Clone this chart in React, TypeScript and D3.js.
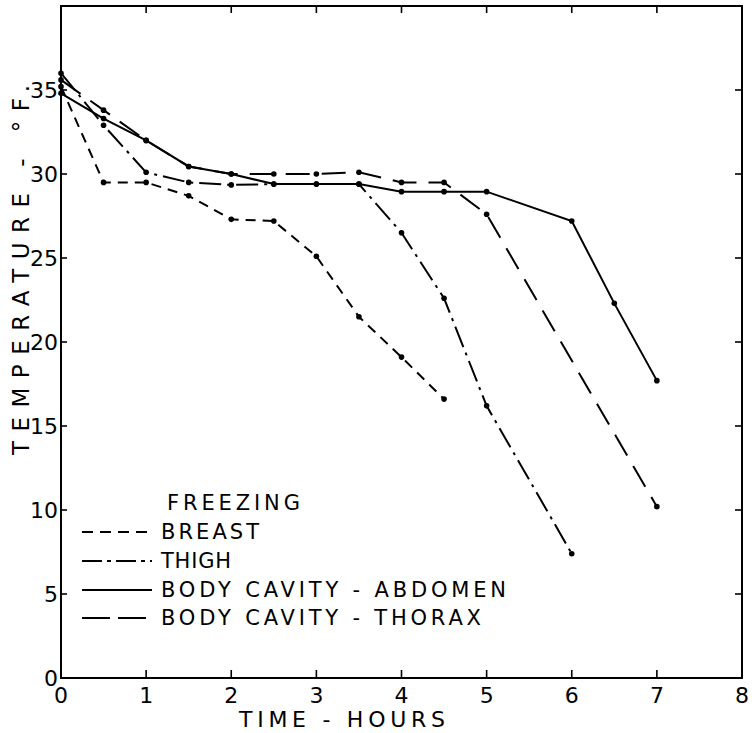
import React from "react";
import * as d3 from "d3";

const hoursBreast = [0, 0.5, 1, 1.5, 2, 2.5, 3, 3.5, 4, 4.5];
const tempBreast = [35.2, 29.5, 29.5, 28.7, 27.3, 27.2, 25.1, 21.5, 19.1, 16.6];

const hoursThigh = [0, 0.5, 1, 1.5, 2, 2.5, 3, 3.5, 4, 4.5, 5, 6];
const tempThigh = [36.0, 32.9, 30.1, 29.5, 29.35, 29.4, 29.4, 29.4, 26.5, 22.6, 16.2, 7.4];

const hoursAbdomen = [0, 0.5, 1, 1.5, 2, 2.5, 3, 3.5, 4, 4.5, 5, 6, 6.5, 7];
const tempAbdomen = [34.8, 33.3, 32.0, 30.45, 30.0, 29.4, 29.4, 29.4, 28.95, 28.95, 28.95, 27.2, 22.3, 17.7];

const hoursThorax = [0, 0.5, 1, 1.5, 2, 2.5, 3, 3.5, 4, 4.5, 5, 7];
const tempThorax = [35.6, 33.8, 32.0, 30.45, 30.0, 30.0, 30.0, 30.1, 29.5, 29.5, 27.6, 10.2];

const xTicks = [0, 1, 2, 3, 4, 5, 6, 7, 8];
const yTicks = [0, 5, 10, 15, 20, 25, 30, 35];

const legendLabels = ["BREAST", "THIGH", "BODY CAVITY - ABDOMEN", "BODY CAVITY - THORAX"];

const FONT = "'DejaVu Sans', 'Liberation Sans', sans-serif";

export default function App() {
  const W = 752, H = 733;
  const x = d3.scaleLinear().domain([0, 8]).range([61, 742]);
  const y = d3.scaleLinear().domain([0, 40]).range([678, 6]);

  const series = [
    { h: hoursBreast, t: tempBreast, dash: "10,7", ldash: "11,7" },
    { h: hoursThigh, t: tempThigh, dash: "22,6,3,6", ldash: "20,5,4,5" },
    { h: hoursAbdomen, t: tempAbdomen, dash: "none", ldash: "none" },
    { h: hoursThorax, t: tempThorax, dash: "24,12", ldash: "28,8" },
  ];

  const line = d3
    .line<[number, number]>()
    .x((d) => x(d[0]))
    .y((d) => y(d[1]));

  const [x0, x1] = x.range();
  const [y0, y1] = y.range();

  const legendRows = [539, 568, 597, 625];
  const legendTextW = [98, 70, 345, 320];

  return (
    <svg width={W} height={H} style={{ position: "absolute", left: 0, top: 0, background: "#fff" }}>
      <rect x={0} y={0} width={W} height={H} fill="#fff" />
      <rect x={x0} y={y1} width={x1 - x0} height={y0 - y1} fill="none" stroke="#000" strokeWidth={2} />
      {xTicks.slice(1, -1).map((t) => (
        <g key={"xt" + t}>
          <line x1={x(t)} x2={x(t)} y1={y0} y2={y0 - 8} stroke="#000" strokeWidth={1.6} />
          <line x1={x(t)} x2={x(t)} y1={y1} y2={y1 + 7} stroke="#000" strokeWidth={1.6} />
        </g>
      ))}
      {yTicks.slice(1).map((t) => (
        <g key={"yt" + t}>
          <line x1={x0} x2={x0 + 6} y1={y(t)} y2={y(t)} stroke="#000" strokeWidth={1.6} />
          <line x1={x1} x2={x1 - 7} y1={y(t)} y2={y(t)} stroke="#000" strokeWidth={1.6} />
        </g>
      ))}
      {xTicks.map((t) => (
        <text key={"xl" + t} x={x(t)} y={703} fontFamily={FONT} fontSize={22} textAnchor="middle" fill="#000">
          {t}
        </text>
      ))}
      {yTicks.map((t) => (
        <text key={"yl" + t} x={58} y={y(t) + 8} fontFamily={FONT} fontSize={22} textAnchor="end" fill="#000">
          {t}
        </text>
      ))}
      <text x={342} y={727} fontFamily={FONT} fontSize={22} textAnchor="middle" textLength={206} lengthAdjust="spacing" fill="#000">
        TIME - HOURS
      </text>
      <text
        transform={`translate(29,${270}) rotate(-90)`}
        fontFamily={FONT}
        fontSize={23}
        textAnchor="middle"
        textLength={370}
        lengthAdjust="spacing"
        fill="#000"
      >
        TEMPERATURE - °F.
      </text>
      {series.map((s, i) => {
        const pts = s.h.map((h, j) => [h, s.t[j]] as [number, number]);
        return (
          <g key={"s" + i}>
            <path d={line(pts) || ""} fill="none" stroke="#000" strokeWidth={2} strokeDasharray={s.dash} />
            {pts.map((p, j) => (
              <circle key={j} cx={x(p[0])} cy={y(p[1])} r={2.8} fill="#000" />
            ))}
          </g>
        );
      })}
      <text x={167} y={510} fontFamily={FONT} fontSize={21} textLength={133} lengthAdjust="spacing" fill="#000">
        FREEZING
      </text>
      {series.map((s, i) => (
        <g key={"lg" + i}>
          <line x1={82} x2={152} y1={legendRows[i] - 7} y2={legendRows[i] - 7} stroke="#000" strokeWidth={2} strokeDasharray={s.ldash} />
          <text x={161} y={legendRows[i]} fontFamily={FONT} fontSize={21} textLength={legendTextW[i]} lengthAdjust="spacing" fill="#000">
            {legendLabels[i]}
          </text>
        </g>
      ))}
    </svg>
  );
}
